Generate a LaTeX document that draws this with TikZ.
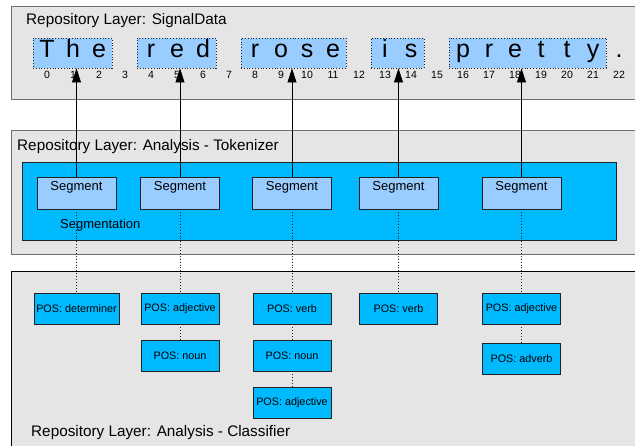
\documentclass[tikz,border=0pt]{standalone}
\usepackage{fontspec}
\setmainfont{Liberation Sans}
\usetikzlibrary{arrows.meta}
\definecolor{layerfill}{HTML}{E5E5E5}
\definecolor{layeredge}{HTML}{6E6E6E}
\definecolor{deepblue}{HTML}{00BAFF}
\definecolor{paleblue}{HTML}{99CCFF}
\definecolor{inkline}{HTML}{222222}
\tikzset{
  layerbox/.style={draw=layeredge, fill=layerfill, line width=1pt},
  titletext/.style={anchor=west, inner sep=0pt, font=\fontsize{15.3}{17}\selectfont},
  wordbox/.style={draw=inkline, dotted, fill=paleblue, line width=0.8pt,
    minimum height=30pt, inner sep=0pt},
  letter/.style={inner sep=0pt, font=\fontsize{25}{27}\selectfont},
  index/.style={inner sep=0pt, font=\fontsize{10.5}{12}\selectfont},
  segbox/.style={draw=inkline, fill=paleblue, line width=0.8pt,
    minimum width=79pt, inner xsep=0pt, inner ysep=0pt,
    text height=13pt, text depth=19pt, font=\fontsize{13}{15}\selectfont},
  posbox/.style={draw=inkline, fill=deepblue, line width=0.9pt,
    minimum width=78pt, minimum height=31pt, inner sep=0pt,
    font=\fontsize{10.8}{12}\selectfont},
  link/.style={draw=inkline, dotted, line width=0.9pt},
  pointer/.style={draw=black, line width=0.8pt,
    -{Triangle[length=14pt,width=9pt]}}
}
\begin{document}
\begin{tikzpicture}[x=1pt, y=-1pt]
\clip (0,0) rectangle (635,445);
\fill[white] (0,0) rectangle (635,445);

% --- repository layers ---
\draw[layerbox] (11,6) rectangle (645,99);
\draw[layerbox] (11,130) rectangle (645,254);
\draw[layerbox, draw=black] (11,271) rectangle (645,460);

\node[titletext] (tsig) at (26,21) {Repository Layer: SignalData};
\node[titletext] (ttok) at (17,147) {Repository Layer: Analysis - Tokenizer};
\node[titletext] (tcls) at (31,433) {Repository Layer: Analysis - Classifier};

% --- signal data: word spans ---
\node[wordbox, minimum width=79pt]  (wThe)    at (72.5,53)  {};
\node[wordbox, minimum width=79pt]  (wRed)    at (176.5,53) {};
\node[wordbox, minimum width=105pt] (wRose)   at (293.5,53) {};
\node[wordbox, minimum width=53pt]  (wIs)     at (397.5,53) {};
\node[wordbox, minimum width=157pt] (wPretty) at (527.5,53) {};

% characters and their offsets
\foreach \ch [count=\k from 0] in {T,h,e,{},r,e,d,{},r,o,s,e,{},i,s,{},p,r,e,t,t,y,.} {
  \node[letter] (ch\k) at (47+26*\k,52) {\strut\ch};
  \node[index]  (ix\k) at (47+26*\k,75) {\k};
}

% --- tokenizer ---
\node[draw=inkline, fill=deepblue, line width=0.9pt, minimum width=594pt,
      minimum height=78pt, inner sep=0pt] (segm) at (319,201) {};
\node[anchor=west, inner sep=0pt, font=\fontsize{13}{15}\selectfont]
      (segmlabel) at (60,225) {Segmentation};

\node[segbox] (s1) at (76.5,193)  {Segment};
\node[segbox] (s2) at (180,193)   {Segment};
\node[segbox] (s3) at (292,193)   {Segment};
\node[segbox] (s4) at (398.5,193) {Segment};
\node[segbox] (s5) at (521.5,193) {Segment};

% --- classifier ---
\node[posbox, minimum width=85pt] (p1)  at (76.5,308.5) {POS: determiner};
\node[posbox] (p2a) at (180,308.5)   {POS: adjective};
\node[posbox] (p2b) at (180,355.5)   {POS: noun};
\node[posbox] (p3a) at (292,308.5)   {POS: verb};
\node[posbox] (p3b) at (292,355.5)   {POS: noun};
\node[posbox] (p3c) at (292,402.5)   {POS: adjective};
\node[posbox] (p4)  at (398.5,308.5) {POS: verb};
\node[posbox] (p5a) at (521.5,308.5) {POS: adjective};
\node[posbox] (p5b) at (521.5,358.5) {POS: adverb};

% dotted links from segments to their classifications
\draw[link] (s1.south) -- (p1.north);
\draw[link] (s2.south) -- (p2a.north);
\draw[link] (p2a.south) -- (p2b.north);
\draw[link] (s3.south) -- (p3a.north);
\draw[link] (p3a.south) -- (p3b.north);
\draw[link] (p3b.south) -- (p3c.north);
\draw[link] (s4.south) -- (p4.north);
\draw[link] (s5.south) -- (p5a.north);
\draw[link] (p5a.south) -- (p5b.north);

% segments point at their word spans
\draw[pointer] (s1.north) -- (s1.north |- wThe.south);
\draw[pointer] (s2.north) -- (s2.north |- wRed.south);
\draw[pointer] (s3.north) -- (s3.north |- wRose.south);
\draw[pointer] (s4.north) -- (s4.north |- wIs.south);
\draw[pointer] (s5.north) -- (s5.north |- wPretty.south);
\end{tikzpicture}
\end{document}
